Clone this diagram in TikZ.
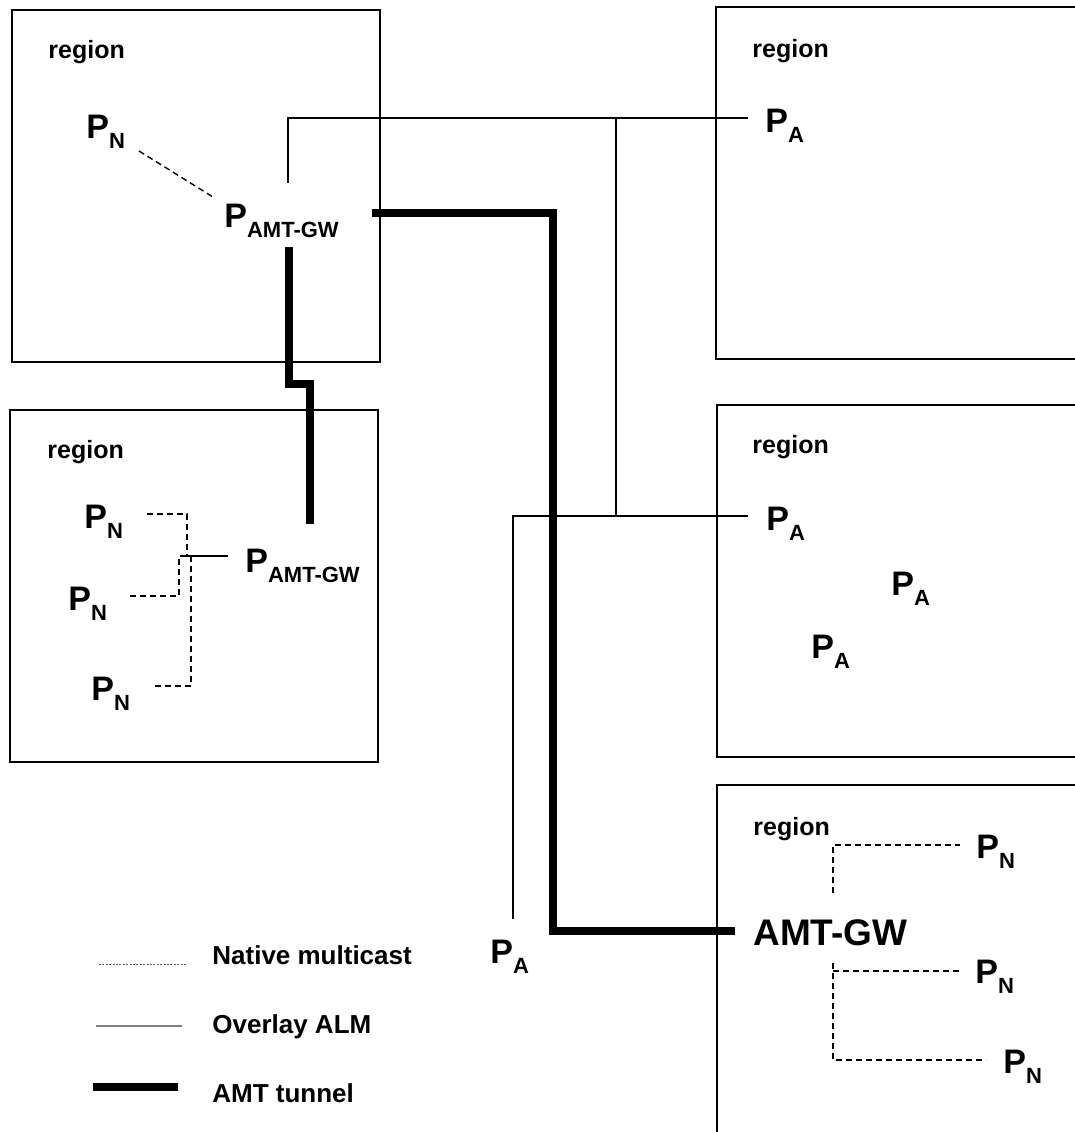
\documentclass[tikz,border=0pt]{standalone}
\usepackage{fontspec}
\setmainfont{Liberation Sans}
\usepackage{tikz}
\usetikzlibrary{positioning}
\tikzset{
  rbox/.style={draw,line width=1pt},
  peer/.style={inner sep=0pt,anchor=base west,font=\fontsize{17}{17}\selectfont\bfseries},
  lbl/.style={inner sep=0pt,anchor=base west,font=\fontsize{12.5}{12.5}\selectfont\bfseries},
  alm/.style={line width=0.75pt},
  tunnel/.style={line width=4pt},
  native/.style={line width=0.7pt,dash pattern=on 3pt off 2pt}
}
\newcommand{\peersub}[1]{P\raisebox{-5pt}{\fontsize{11}{11}\selectfont #1}}

\begin{document}
\begin{tikzpicture}[x=0.5pt,y=-0.5pt]
\useasboundingbox (0,0) rectangle (1075,1132);
% regions
\draw[rbox] (12,10) rectangle (380,362);
\draw[rbox] (10,410) rectangle (378,762);
\draw[rbox] (716,7) rectangle (1090,359);
\draw[rbox] (717,405) rectangle (1090,757);
\draw[rbox] (717,785) rectangle (1090,1140);
\node[lbl] (r1) at (48,58) {region};
\node[lbl] (r2) at (47,458) {region};
\node[lbl] (r3) at (752,57) {region};
\node[lbl] (r4) at (752,453) {region};
\node[lbl] (r5) at (753,835) {region};
% peers
\node[peer] (n1) at (86,138) {\peersub{N}};
\node[peer] (gw1) at (224,227) {\peersub{AMT-GW}};
\node[peer] (a1) at (765,132) {\peersub{A}};
\node[peer] (n2a) at (84,528) {\peersub{N}};
\node[peer] (n2b) at (68,610) {\peersub{N}};
\node[peer] (n2c) at (91,700) {\peersub{N}};
\node[peer] (gw2) at (245,572) {\peersub{AMT-GW}};
\node[peer] (a2a) at (766,530) {\peersub{A}};
\node[peer] (a2b) at (891,595) {\peersub{A}};
\node[peer] (a2c) at (811,658) {\peersub{A}};
\node[peer] (a3) at (490,963) {\peersub{A}};
\node[peer,font=\fontsize{18.5}{18.5}\selectfont\bfseries] (gw3) at (753,945) {AMT-GW};
\node[peer] (n3a) at (976,858) {\peersub{N}};
\node[peer] (n3b) at (975,983) {\peersub{N}};
\node[peer] (n3c) at (1003,1073) {\peersub{N}};
% junctions
\coordinate (j1) at (616,118);
\coordinate (j2) at (616,516);
\coordinate (j3) at (228,556);
\coordinate (j4) at (833,845);
\coordinate (j5) at (833,1060);
% overlay ALM
\draw[alm] (288,183) |- (748,118);
\draw[alm] (j1) -- (j2);
\draw[alm] (748,516) -| (513,919);
% AMT tunnels
\draw[tunnel] (372,213) -| (553,931) -- (735,931);
\draw[tunnel] (289,247) |- (310,384) -- (310,524);
% native multicast
\draw[native] (139,151) -- (213,197);
\draw[native] (147,514) -| (187,556) -- (j3);
\draw[native] (130,596) -| (179,556) -- (j3);
\draw[native] (155,686) -| (191,556) -- (j3);
\draw[native] (833,893) -- (j4) -- (960,845);
\draw[native] (833,963) -- (j5) -- (986,1060);
\draw[native] (833,971) -- (959,971);
% legend
\draw[line width=0.5pt,gray!70!black,dash pattern=on 1pt off 0.7pt] (99,964) -- (186,964);
\draw[line width=1pt,gray] (96,1026) -- (182,1026);
\draw[tunnel] (93,1087) -- (178,1087);
\node[lbl,font=\fontsize{13}{13}\selectfont\bfseries] (k1) at (212,964) {Native multicast};
\node[lbl,font=\fontsize{13}{13}\selectfont\bfseries] (k2) at (212,1033) {Overlay ALM};
\node[lbl,font=\fontsize{13}{13}\selectfont\bfseries] (k3) at (212,1102) {AMT tunnel};
\end{tikzpicture}
\end{document}
